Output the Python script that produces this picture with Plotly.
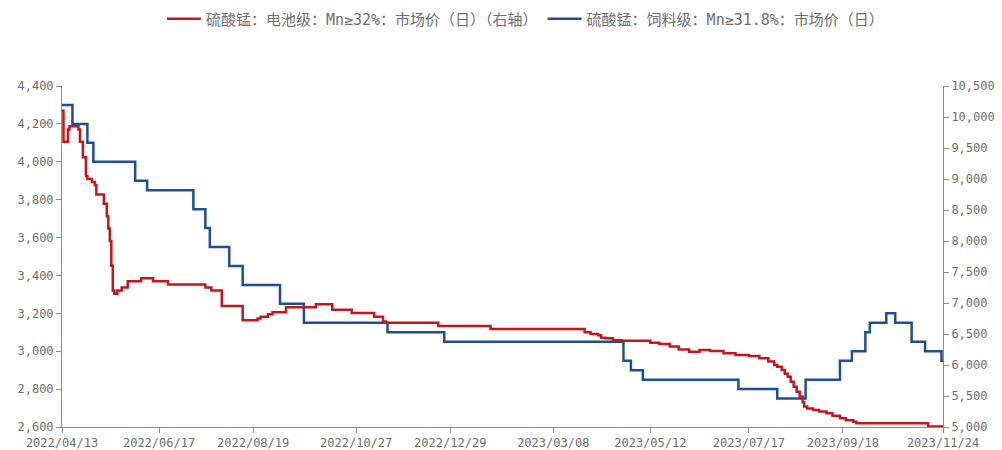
import plotly.graph_objects as go

# Battery grade (right axis)
red_dates = [
    "2022-04-13", "2022-04-14", "2022-04-17", "2022-04-18", "2022-04-24", "2022-04-25",
    "2022-04-27", "2022-04-29", "2022-04-30", "2022-05-03", "2022-05-05", "2022-05-06",
    "2022-05-11", "2022-05-13", "2022-05-14", "2022-05-15", "2022-05-16", "2022-05-17",
    "2022-05-18", "2022-05-20", "2022-05-23", "2022-05-27", "2022-06-05", "2022-06-13",
    "2022-06-23", "2022-07-18", "2022-07-22", "2022-07-29", "2022-08-12", "2022-08-22",
    "2022-08-24", "2022-08-29", "2022-09-01", "2022-09-10", "2022-09-30", "2022-10-11",
    "2022-10-24", "2022-11-08", "2022-11-14", "2022-11-16", "2022-12-21", "2023-01-25",
    "2023-03-29", "2023-04-02", "2023-04-07", "2023-04-09", "2023-04-12", "2023-04-17",
    "2023-04-23", "2023-05-12", "2023-05-18", "2023-05-25", "2023-05-31", "2023-06-07",
    "2023-06-14", "2023-06-21", "2023-06-30", "2023-07-08", "2023-07-17", "2023-07-24",
    "2023-07-30", "2023-08-03", "2023-08-05", "2023-08-08", "2023-08-10", "2023-08-12",
    "2023-08-14", "2023-08-16", "2023-08-18", "2023-08-20", "2023-08-22", "2023-08-23",
    "2023-08-25", "2023-08-29", "2023-09-02", "2023-09-07", "2023-09-11", "2023-09-16",
    "2023-09-20", "2023-09-25", "2023-09-27", "2023-11-14", "2023-11-24",
]
red_values = [
    10100, 9600, 9800, 9850, 9800, 9600,
    9350, 9050, 9000, 8950, 8900, 8750,
    8600, 8400, 8200, 8000, 7600, 7200,
    7150, 7200, 7250, 7350, 7400, 7350,
    7300, 7250, 7200, 6950, 6720, 6750,
    6780, 6820, 6850, 6930, 6980, 6890,
    6840, 6780, 6700, 6680, 6630, 6580,
    6530, 6500, 6480, 6440, 6430, 6400,
    6390, 6360, 6340, 6300, 6250, 6215,
    6240, 6225, 6190, 6160, 6145, 6110,
    6055, 6000, 5970, 5920, 5860, 5810,
    5730, 5650, 5570, 5490, 5400, 5330,
    5300, 5275, 5250, 5220, 5180, 5140,
    5110, 5085, 5060, 5010, 5010,
]

# Feed grade (left axis)
blue_dates = [
    "2022-04-13", "2022-04-20", "2022-04-30", "2022-05-04", "2022-06-01", "2022-06-09",
    "2022-07-10", "2022-07-18", "2022-07-21", "2022-08-03", "2022-08-12", "2022-09-06",
    "2022-09-22", "2022-11-17", "2022-12-25", "2023-04-24", "2023-04-29", "2023-05-07",
    "2023-07-10", "2023-08-05", "2023-08-24", "2023-09-16", "2023-09-24", "2023-10-03",
    "2023-10-06", "2023-10-17", "2023-10-23", "2023-11-03", "2023-11-12", "2023-11-23",
    "2023-11-24",
]
blue_values = [
    4300, 4200, 4100, 4000, 3900, 3850,
    3750, 3650, 3550, 3450, 3350, 3250,
    3150, 3100, 3050, 2950, 2900, 2850,
    2800, 2750, 2850, 2950, 3000, 3100,
    3150, 3200, 3150, 3050, 3000, 2950,
    2950,
]

x_tick_vals = ["2022-04-13", "2022-06-17", "2022-08-19", "2022-10-27", "2022-12-29",
               "2023-03-08", "2023-05-12", "2023-07-17", "2023-09-18", "2023-11-24"]
x_tick_text = [v.replace("-", "/") for v in x_tick_vals]

red_name = "硫酸锰：电池级：Mn≥32%：市场价（日）（右轴）"
blue_name = "硫酸锰：饲料级：Mn≥31.8%：市场价（日）"

RED = "#C4161C"
BLUE = "#1D4F91"
AX = "#8C8C8C"
TXT = "#6E6E6E"
MONO = "DejaVu Sans Mono, Noto Sans CJK SC, sans-serif"

fig = go.Figure()
fig.add_trace(go.Scatter(x=red_dates, y=red_values, name=red_name, yaxis="y2",
                         mode="lines", line=dict(color=RED, width=2.5, shape="hv")))
fig.add_trace(go.Scatter(x=blue_dates, y=blue_values, name=blue_name, yaxis="y",
                         mode="lines", line=dict(color=BLUE, width=2.5, shape="hv")))

axis_common = dict(showgrid=False, zeroline=False, showline=True, linecolor=AX, linewidth=1,
                   ticks="outside", ticklen=5, tickcolor=AX, automargin=False,
                   tickfont=dict(family=MONO, size=12, color=TXT))

fig.update_layout(
    width=1002, height=450,
    margin=dict(l=62, r=59, t=86, b=23, autoexpand=False),
    paper_bgcolor="white", plot_bgcolor="white",
    font=dict(family=MONO, size=12, color=TXT),
    showlegend=True,
    legend=dict(orientation="h", x=0.526, xanchor="center", y=0.958, yanchor="middle",
                yref="container", font=dict(family=MONO, size=15, color=TXT),
                itemwidth=34, traceorder="normal"),
    xaxis=dict(type="date", range=["2022-04-13", "2023-11-24"],
               tickvals=x_tick_vals, ticktext=x_tick_text, **axis_common),
    yaxis=dict(range=[2600, 4400], dtick=200, tick0=2600, tickformat=",", **axis_common),
    yaxis2=dict(range=[5000, 10500], dtick=500, tick0=5000, tickformat=",",
                overlaying="y", side="right", **axis_common),
)

fig.write_html(
    "out.html",
    config={"displayModeBar": False},
    post_script="document.body.style.margin='0';document.body.style.overflow='hidden';",
)
